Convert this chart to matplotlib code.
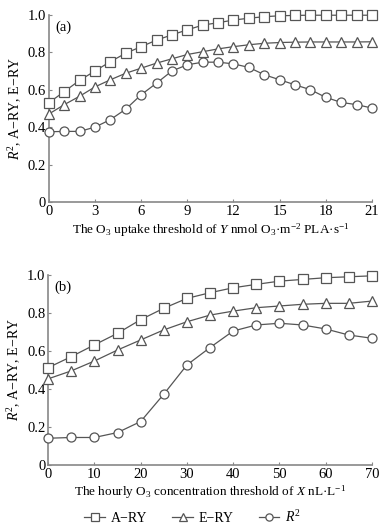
import matplotlib
matplotlib.use("Agg")
import matplotlib.pyplot as plt

plt.rcParams['font.family'] = 'Liberation Serif'
plt.rcParams['mathtext.fontset'] = 'custom'
plt.rcParams['mathtext.rm'] = 'Liberation Serif'
plt.rcParams['mathtext.it'] = 'Liberation Serif:italic'

# panel (a): O3 uptake threshold Y
xa = list(range(0, 22))
a_ry_a = [0.53, 0.59, 0.65, 0.70, 0.75, 0.795, 0.83, 0.865, 0.893, 0.92, 0.945, 0.958, 0.972, 0.982, 0.99,
          0.995, 0.997, 0.998, 0.998, 0.998, 0.998, 0.998]
e_ry_a = [0.47, 0.52, 0.565, 0.615, 0.653, 0.688, 0.715, 0.742, 0.765, 0.788, 0.803, 0.818, 0.83, 0.84, 0.848,
          0.852, 0.854, 0.855, 0.855, 0.855, 0.855, 0.856]
r2_a = [0.375, 0.377, 0.377, 0.40, 0.44, 0.496, 0.573, 0.635, 0.70, 0.733, 0.747, 0.747, 0.738, 0.719, 0.68,
        0.653, 0.626, 0.60, 0.559, 0.532, 0.52, 0.502]

# panel (b): hourly O3 concentration threshold X
xb = list(range(0, 75, 5))
a_ry_b = [0.512, 0.57, 0.632, 0.693, 0.765, 0.825, 0.877, 0.907, 0.933, 0.951, 0.968, 0.977, 0.986, 0.991, 0.996]
e_ry_b = [0.453, 0.495, 0.547, 0.605, 0.658, 0.711, 0.754, 0.789, 0.81, 0.828, 0.837, 0.846, 0.851, 0.851, 0.863]
r2_b = [0.14, 0.144, 0.144, 0.17, 0.228, 0.372, 0.526, 0.618, 0.705, 0.737, 0.746, 0.737, 0.716, 0.684, 0.667]

yticks = [0, 0.2, 0.4, 0.6, 0.8, 1.0]
ylabels = ['0', '0.2', '0.4', '0.6', '0.8', '1.0']

fig = plt.figure(figsize=(3.85, 5.30), dpi=100)
axa = fig.add_axes([0.127, 0.619, 0.839, 0.353])
axb = fig.add_axes([0.125, 0.123, 0.841, 0.358])

lc = '#555555'
style = dict(color=lc, lw=0.9, markerfacecolor='white', markeredgecolor=lc, markeredgewidth=0.9,
             markersize=6.5, clip_on=False, zorder=3)


def draw(ax, x, a, e, r):
    ha, = ax.plot(x, a, marker='s', label='A\u2212RY', **style)
    he, = ax.plot(x, e, marker='^', label='E\u2212RY', **style)
    hr, = ax.plot(x, r, marker='o', label='$R^2$', **style)
    ax.set_ylim(0, 1.0)
    ax.set_yticks(yticks)
    ax.set_yticklabels(ylabels)
    for s in ['top', 'right']:
        ax.spines[s].set_visible(False)
    for s in ['left', 'bottom']:
        ax.spines[s].set_color('#888888')
        ax.spines[s].set_linewidth(1.2)
    ax.tick_params(direction='in', length=2.5, width=0.8, color='#888888', labelsize=10.5, pad=2)
    ax.set_ylabel('$R^2$, A\u2212RY, E\u2212RY', fontsize=10, labelpad=3)
    return ha, he, hr


draw(axa, xa, a_ry_a, e_ry_a, r2_a)
axa.set_xlim(0, 21)
axa.set_xticks(range(0, 22, 3))
axa.set_xlabel('The O$_3$ uptake threshold of $Y$ nmol O$_3$\u00b7m$^{-2}$ PLA\u00b7s$^{-1}$', fontsize=9.5, labelpad=3)
axa.text(0.02, 0.97, '(a)', transform=axa.transAxes, fontsize=10.5, va='top')

handles = draw(axb, xb, a_ry_b, e_ry_b, r2_b)
axb.set_xlim(0, 70)
axb.set_xticks(range(0, 71, 10))
axb.set_xlabel('The hourly O$_3$ concentration threshold of $X$ nL\u00b7L$^{-1}$', fontsize=9.5, labelpad=2)
axb.text(0.02, 0.97, '(b)', transform=axb.transAxes, fontsize=10.5, va='top')

fig.legend(handles=handles, loc='center', bbox_to_anchor=(0.5, 0.025), ncol=3, frameon=False,
           fontsize=10, handlelength=1.5, columnspacing=1.8, handletextpad=0.4, markerscale=0.8)

fig.savefig('out.png', dpi=100)
